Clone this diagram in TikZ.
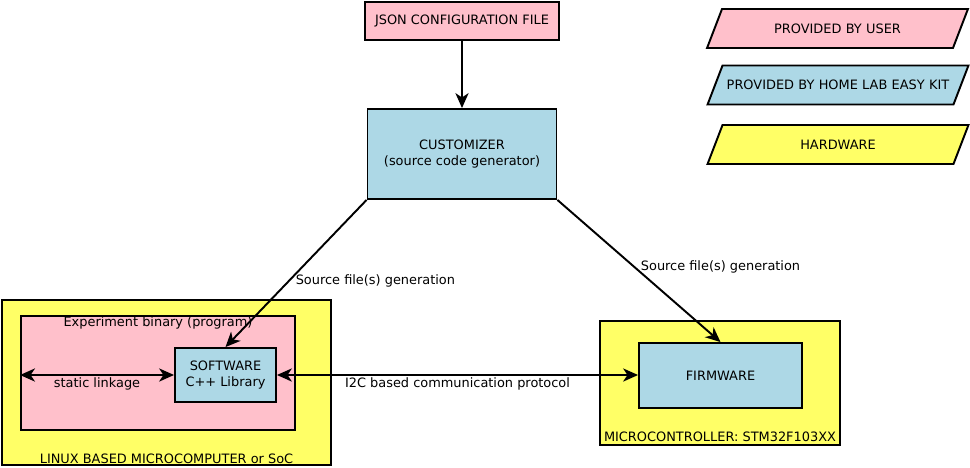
\documentclass[tikz,border=0pt]{standalone}
\usepackage{fontspec}
\setmainfont{DejaVu Sans}
\usetikzlibrary{shapes, arrows.meta}
\definecolor{userpink}{RGB}{255,192,203}
\definecolor{kitblue}{RGB}{173,216,230}
\definecolor{hwyellow}{RGB}{255,255,102}
\tikzstyle{block} =
        [
                rectangle,
                draw,
                line width = 1.1pt,
                align = center,
                inner sep = 0pt
        ]
\tikzstyle{legend} =
        [
                trapezium,
                draw,
                line width = 1.1pt,
                trapezium left angle = 69,
                trapezium right angle = 111,
                text width = 4.62cm,
                align = center,
                text height = 13.75pt,
                text depth = 8.45pt,
                inner sep = 0pt
        ]
\tikzstyle{line} =
        [
                draw,
                line width = 1.1pt,
                -{Stealth[length = 8.5pt, width = 7.5pt, inset = 2.5pt]}
        ]
\tikzstyle{biline} =
        [
                line,
                {Stealth[length = 8.5pt, width = 7.5pt, inset = 2.5pt]}-{Stealth[length = 8.5pt, width = 7.5pt, inset = 2.5pt]}
        ]
\tikzstyle{caption} =
        [
                inner sep = 1pt
        ]

\begin{document}
\begin{tikzpicture}[x = 0.02cm, y = -0.02cm, font = \fontsize{7.35}{9}\selectfont]
        \useasboundingbox (0,0) rectangle (970,467);
        % legend
        \node [legend, fill = userpink] (keyuser) at (837.5,28.5) {PROVIDED BY USER};
        \node [legend, fill = kitblue] (keykit) at (838,85) {PROVIDED BY HOME LAB EASY KIT};
        \node [legend, fill = hwyellow] (keyhw) at (838,144.5) {HARDWARE};
        % generator
        \node [block, fill = userpink, minimum width = 3.88cm, minimum height = 0.76cm] (json) at (462,21) {JSON CONFIGURATION FILE};
        \node [block, fill = kitblue, minimum width = 3.78cm, minimum height = 1.8cm] (customizer) at (462,154) {CUSTOMIZER\\(source code generator)};
        % linux side
        \node [block, fill = hwyellow, minimum width = 6.58cm, minimum height = 3.3cm] (linux) at (166.5,382.5) {};
        \node [block, fill = userpink, minimum width = 5.48cm, minimum height = 2.28cm] (binary) at (158,373) {};
        \node [block, fill = kitblue, minimum width = 2.02cm, minimum height = 1.08cm] (software) at (225.5,375) {SOFTWARE\\C++ Library};
        \node [caption, anchor = south] (linuxlbl) at (linux.south) {LINUX BASED MICROCOMPUTER or SoC};
        \node [caption, anchor = north] (binarylbl) at (binary.north) {Experiment binary (program)};
        % microcontroller side
        \node [block, fill = hwyellow, minimum width = 4.8cm, minimum height = 2.48cm] (mcu) at (720,383) {};
        \node [block, fill = kitblue, minimum width = 3.26cm, minimum height = 1.3cm] (firmware) at (720.5,375.5) {FIRMWARE};
        \node [caption, anchor = south, yshift = 1pt] (mculbl) at (mcu.south) {MICROCONTROLLER: STM32F103XX};
        % connections
        \path [line] (json) -- (customizer);
        \path [line] (customizer.south west) -- node [pos = 0.55, right] {Source file(s) generation} (software.north);
        \path [line] (customizer.south east) -- node [pos = 0.47, right] {Source file(s) generation} (firmware.north);
        \path [biline] (software.west -| binary.west) -- node [caption, below] {static linkage} (software.west);
        \path [biline] (software.east) -- node [caption, below] {I2C based communication protocol} (software.east -| firmware.west);
\end{tikzpicture}
\end{document}
